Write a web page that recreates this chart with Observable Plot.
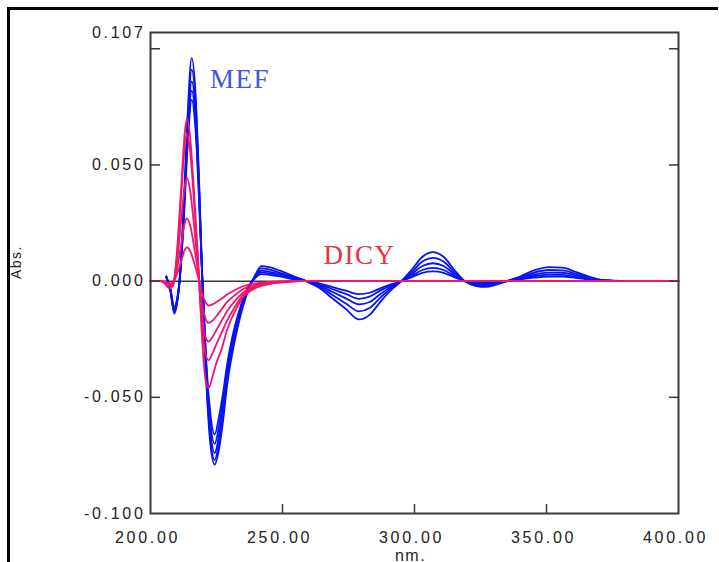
<!DOCTYPE html>
<html><head><meta charset="utf-8">
<script src="https://cdn.jsdelivr.net/npm/d3@7"></script>
<script src="https://cdn.jsdelivr.net/npm/@observablehq/plot@0.6"></script>
<style>
html,body{margin:0;padding:0;background:#fff;width:719px;height:562px;overflow:hidden;}
#wrap{position:relative;width:719px;height:562px;}
#chart{position:absolute;left:0;top:0;}
#border{position:absolute;left:7px;top:7px;width:708px;height:600px;border-left:3px solid #000;border-top:3px solid #000;pointer-events:none;}
svg text{letter-spacing:1.5px;}
svg g[aria-label$="tick label"] text{letter-spacing:2.7px;}
</style></head><body>
<div id="wrap"><div id="chart"></div><div id="border"></div></div>
<script>
// ---- data (wavelength in nm, absorbance derivative) ----
const mefNm = [206, 207.5, 209, 210, 211, 212.5, 214, 215.6, 217, 218.5, 219.5, 221, 222.5, 224.3, 226, 227.5, 229, 231, 233, 235, 237, 239,
  242, 245, 249, 254, 259, 264, 269, 274, 279, 283, 287, 291, 295, 299, 303, 307, 311, 315, 319, 323, 327, 331, 335, 340, 345, 351, 356, 361, 366, 371, 380, 393];
const mef1 = [0.002, -0.004, -0.014, -0.010, 0.000, 0.030, 0.070, 0.096, 0.082, 0.040, 0.005, -0.040, -0.068, -0.079, -0.072, -0.060, -0.045, -0.031, -0.020, -0.011, -0.004, 0.001,
  0.0065, 0.006, 0.0045, 0.0022, 0.000, -0.003, -0.0075, -0.012, -0.0165, -0.0145, -0.009, -0.004, 0.000, 0.005, 0.0105, 0.0125, 0.0105, 0.005, 0.000, -0.002, -0.0025, -0.0015, 0.000, 0.002, 0.0045, 0.006, 0.0058, 0.004, 0.002, 0.0005, 0, 0];
const mef2 = [0.002, -0.004, -0.013, -0.0095, 0.000, 0.028, 0.066, 0.091, 0.078, 0.038, 0.005, -0.038, -0.065, -0.077, -0.069, -0.057, -0.043, -0.029, -0.019, -0.010, -0.004, 0.001,
  0.0055, 0.005, 0.0036, 0.0018, 0.000, -0.0024, -0.006, -0.0096, -0.013, -0.0116, -0.0072, -0.0032, 0.000, 0.004, 0.0084, 0.010, 0.0084, 0.004, 0.000, -0.0016, -0.002, -0.0012, 0.000, 0.0016, 0.0036, 0.0048, 0.0046, 0.0032, 0.0016, 0.0004, 0, 0];
const mef3 = [0.002, -0.0035, -0.0125, -0.009, 0.000, 0.027, 0.063, 0.086, 0.074, 0.036, 0.004, -0.036, -0.062, -0.074, -0.066, -0.054, -0.040, -0.027, -0.017, -0.009, -0.003, 0.001,
  0.0045, 0.004, 0.003, 0.0014, 0.000, -0.0019, -0.0047, -0.0074, -0.010, -0.009, -0.0056, -0.0025, 0.000, 0.0031, 0.0065, 0.0077, 0.0065, 0.0031, 0.000, -0.0012, -0.0015, -0.0009, 0.000, 0.0012, 0.0028, 0.0037, 0.0036, 0.0025, 0.0012, 0.0003, 0, 0];
const mef4 = [0.0015, -0.0035, -0.012, -0.0085, 0.000, 0.026, 0.060, 0.082, 0.070, 0.034, 0.004, -0.034, -0.059, -0.070, -0.062, -0.051, -0.038, -0.026, -0.016, -0.008, -0.003, 0.0008,
  0.0038, 0.0033, 0.0024, 0.001, 0.000, -0.0014, -0.0035, -0.0055, -0.0076, -0.0067, -0.0041, -0.0018, 0.000, 0.0023, 0.0048, 0.0057, 0.0048, 0.0023, 0.000, -0.0009, -0.0011, -0.0007, 0.000, 0.0009, 0.0021, 0.0028, 0.0027, 0.0018, 0.0009, 0.0002, 0, 0];
const mef5 = [0.0015, -0.003, -0.011, -0.008, 0.000, 0.024, 0.057, 0.078, 0.066, 0.032, 0.004, -0.032, -0.055, -0.066, -0.058, -0.048, -0.036, -0.024, -0.015, -0.008, -0.0025, 0.0005,
  0.003, 0.0027, 0.002, 0.0008, 0.000, -0.001, -0.0026, -0.0041, -0.0056, -0.005, -0.0031, -0.0014, 0.000, 0.0017, 0.0036, 0.0042, 0.0036, 0.0017, 0.000, -0.0007, -0.0008, -0.0005, 0.000, 0.0007, 0.0015, 0.002, 0.002, 0.0014, 0.0007, 0.0002, 0, 0];

const dicyNm = [200, 204, 205.5, 207, 208.5, 210, 211.5, 213, 213.8, 215, 216.5, 218, 219.3, 220.8, 222, 223.5, 225, 227, 229, 232, 235, 239, 244, 250, 256, 270, 300, 350, 400];
const dicy1 = [0, 0, -0.001, -0.003, -0.002, 0.012, 0.038, 0.064, 0.070, 0.062, 0.038, 0.010, -0.020, -0.042, -0.046, -0.041, -0.035, -0.029, -0.021, -0.013, -0.007, -0.0035, -0.0015, -0.0005, 0, 0, 0, 0, 0];
const dicy2 = [0, 0, -0.001, -0.003, -0.002, 0.011, 0.035, 0.058, 0.0635, 0.056, 0.034, 0.008, -0.016, -0.031, -0.034, -0.031, -0.027, -0.022, -0.017, -0.011, -0.006, -0.003, -0.0012, -0.0004, 0, 0, 0, 0, 0];
const dicy3 = [0, 0, -0.0008, -0.002, -0.0015, 0.008, 0.025, 0.041, 0.0445, 0.039, 0.024, 0.006, -0.012, -0.024, -0.026, -0.024, -0.021, -0.017, -0.013, -0.0085, -0.005, -0.0025, -0.001, -0.0003, 0, 0, 0, 0, 0];
const dicy4 = [0, 0, -0.0005, -0.0015, -0.001, 0.005, 0.015, 0.025, 0.027, 0.024, 0.015, 0.004, -0.008, -0.016, -0.018, -0.017, -0.015, -0.012, -0.009, -0.006, -0.0035, -0.0018, -0.0007, -0.0002, 0, 0, 0, 0, 0];
const dicy5 = [0, 0, -0.0003, -0.001, -0.0007, 0.003, 0.008, 0.0135, 0.0145, 0.013, 0.008, 0.002, -0.0045, -0.009, -0.0105, -0.010, -0.009, -0.0075, -0.0058, -0.0038, -0.0022, -0.0011, -0.0004, -0.0001, 0, 0, 0, 0, 0];

const xTickLabels = [200, 250, 300, 350, 400];
const xTickMarks = [250, 300, 350];
const yTickLabels = [0.107, 0.05, 0, -0.05, -0.1];
const yTickMarks = [0.1, 0.05, 0, -0.05];

const seriesNames = ["MEF", "DICY"];
const seriesLabelNm = [222.5, 265.5];
const seriesLabelAbs = [0.083, 0.0072];

// ---- build tables ----
function rows(nm, sets, prefix) {
  const out = [];
  sets.forEach((vals, k) => vals.forEach((v, i) => out.push({nm: nm[i], abs: v, id: prefix + k})));
  return out;
}
const mefRows = rows(mefNm, [mef1, mef2, mef3, mef4, mef5], "m");
const dicyRows = rows(dicyNm, [dicy1, dicy2, dicy3, dicy4, dicy5], "d");

const blue = "#0814f2";
const pink = "#f2156e";

const plot = Plot.plot({
  width: 719, height: 562,
  marginLeft: 150, marginRight: 41, marginTop: 32, marginBottom: 49,
  style: {fontFamily: "'Liberation Sans', Arial, sans-serif", fontSize: "16px", color: "#222", background: "transparent"},
  x: {domain: [200, 400]},
  y: {domain: [-0.1, 0.107]},
  marks: [
    Plot.ruleY([0], {stroke: "#3a3a3a", strokeWidth: 1.5}),
    Plot.line(mefRows, {x: "nm", y: "abs", z: "id", stroke: blue, strokeWidth: 1.8, curve: "monotone-x"}),
    Plot.line(dicyRows, {x: "nm", y: "abs", z: "id", stroke: pink, strokeWidth: 1.8, curve: "monotone-x"}),
    Plot.frame({stroke: "#3a3a3a", strokeWidth: 2}),
    Plot.axisY({ticks: yTickLabels, tickSize: 0, tickPadding: 5, tickFormat: d => d.toFixed(3), label: null}),
    Plot.axisY({ticks: yTickMarks, tickSize: -10, tickFormat: () => "", label: null, stroke: "#3a3a3a", strokeWidth: 1.5}),
    Plot.axisY({anchor: "right", ticks: yTickMarks, tickSize: -10, tickFormat: () => "", label: null, stroke: "#3a3a3a", strokeWidth: 1.5}),
    Plot.axisX({ticks: xTickLabels, tickSize: 0, tickPadding: 18, dx: -3, tickFormat: d => d.toFixed(2), label: null}),
    Plot.axisX({ticks: xTickMarks, tickSize: -9, tickFormat: () => "", label: null, stroke: "#3a3a3a", strokeWidth: 1.5}),
    Plot.text([seriesNames[0]], {x: [seriesLabelNm[0]], y: [seriesLabelAbs[0]], text: d => d, textAnchor: "start", lineAnchor: "bottom", fill: "#3d55e8", fontFamily: "'Liberation Serif', 'Times New Roman', serif", fontSize: 27}),
    Plot.text([seriesNames[1]], {x: [seriesLabelNm[1]], y: [seriesLabelAbs[1]], text: d => d, textAnchor: "start", lineAnchor: "bottom", fill: "#e8323f", fontFamily: "'Liberation Serif', 'Times New Roman', serif", fontSize: 27}),
    Plot.text(["Abs."], {frameAnchor: "left", rotate: -90, dx: -134, dy: 6, fontSize: 14, fill: "#222"}),
    Plot.text(["nm."], {frameAnchor: "bottom", dy: 47, dx: -4, lineAnchor: "bottom", fontSize: 16, fill: "#222"})
  ]
});
document.getElementById("chart").appendChild(plot);
</script>
</body></html>
